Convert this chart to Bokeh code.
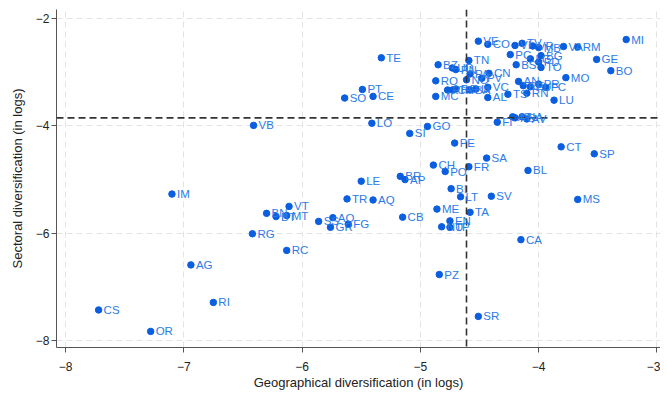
from bokeh.plotting import figure
from bokeh.models import ColumnDataSource, LabelSet, Span, FixedTicker, Range1d
from bokeh.core.properties import value
from bokeh.embed import file_html
from bokeh.resources import INLINE

provinces = ["VE", "CO", "VI", "TV", "VR", "MB", "LC", "VA", "RM", "MI", "PC", "BG", "PD", "BS", "TO",
             "GE", "BO", "MO", "LU", "AN", "RE", "PU", "PR", "FC", "RN", "TS", "AL", "VC", "CN", "PV",
             "PA", "NO", "TN", "BZ", "UD", "PN", "RO", "MC", "PI", "CR", "PG", "BA", "LI", "FI", "AT",
             "PS", "NA", "AV", "TE", "PT", "CE", "SO", "LO", "VB", "SI", "GO", "PE", "CT", "SP", "SA",
             "CH", "PO", "FR", "BL", "BR", "AP", "BI", "LT", "SV", "MS", "ME", "TA", "EN", "NU", "TP",
             "CB", "CA", "PZ", "SR", "IM", "LE", "TR", "AQ", "VT", "BN", "BT", "MT", "SS", "AO", "GR",
             "FG", "RG", "RC", "AG", "CS", "OR", "RI"]
geo_div = [-4.51, -4.43, -4.20, -4.14, -4.05, -4.00, -4.07, -3.79, -3.67, -3.26, -4.24, -3.98, -4.00, -4.19, -3.98,
           -3.51, -3.39, -3.77, -3.87, -4.17, -4.13, -4.07, -4.00, -3.94, -4.10, -4.26, -4.43, -4.43, -4.42, -4.48,
           -4.58, -4.61, -4.59, -4.85, -4.73, -4.70, -4.87, -4.87, -4.77, -4.73, -4.70, -4.58, -4.53, -4.35, -4.22,
           -4.20, -4.14, -4.10, -5.33, -5.49, -5.40, -5.64, -5.41, -6.41, -5.09, -4.94, -4.71, -3.81, -3.53, -4.44,
           -4.89, -4.79, -4.59, -4.09, -5.17, -5.13, -4.74, -4.66, -4.40, -3.67, -4.86, -4.58, -4.75, -4.82, -4.75,
           -5.15, -4.15, -4.84, -4.51, -7.10, -5.50, -5.62, -5.40, -6.11, -6.30, -6.22, -6.13, -5.86, -5.74, -5.76,
           -5.61, -6.42, -6.13, -6.94, -7.72, -7.28, -6.75]
sec_div = [-2.42, -2.48, -2.50, -2.46, -2.51, -2.54, -2.75, -2.52, -2.53, -2.39, -2.67, -2.69, -2.81, -2.86, -2.91,
           -2.76, -2.97, -3.10, -3.52, -3.17, -3.25, -3.27, -3.22, -3.28, -3.39, -3.41, -3.47, -3.28, -3.02, -3.11,
           -3.03, -3.14, -2.78, -2.86, -2.92, -2.95, -3.16, -3.45, -3.33, -3.33, -3.31, -3.33, -3.31, -3.93, -3.83,
           -3.85, -3.83, -3.87, -2.73, -3.32, -3.45, -3.48, -3.95, -3.99, -4.14, -4.01, -4.32, -4.39, -4.52, -4.60,
           -4.73, -4.85, -4.76, -4.83, -4.94, -5.00, -5.17, -5.32, -5.31, -5.37, -5.55, -5.61, -5.77, -5.88, -5.89,
           -5.70, -6.12, -6.77, -7.55, -5.27, -5.03, -5.36, -5.38, -5.50, -5.63, -5.69, -5.67, -5.78, -5.71, -5.89,
           -5.83, -6.01, -6.32, -6.59, -7.43, -7.83, -7.29]
x_ticks = [-8, -7, -6, -5, -4, -3]
y_ticks = [-8, -6, -4, -2]
geo_mean = -4.61
sec_mean = -3.85

src = ColumnDataSource(dict(x=geo_div, y=sec_div, lab=provinces))

p = figure(frame_width=604, frame_height=338, output_backend="svg", toolbar_location=None,
           x_range=Range1d(-8.076, -2.97), y_range=Range1d(-8.13, -1.83),
           min_border_left=56, min_border_right=0, min_border_top=9, min_border_bottom=0,
           x_axis_label="Geographical diversification (in logs)",
           y_axis_label="Sectoral diversification (in logs)")
p.outline_line_color = None
p.background_fill_color = "white"

for ax, ticks in ((p.xaxis[0], x_ticks), (p.yaxis[0], y_ticks)):
    ax.ticker = FixedTicker(ticks=ticks)
    ax.axis_line_color = "#555555"
    ax.major_tick_line_color = "#555555"
    ax.major_tick_out = 5
    ax.major_tick_in = 0
    ax.minor_tick_line_color = None
    ax.major_label_text_font = "Liberation Sans"
    ax.major_label_text_font_size = "12px"
    ax.major_label_text_color = "#222222"
    ax.axis_label_text_font = "Liberation Sans"
    ax.axis_label_text_font_size = "13px"
    ax.axis_label_text_font_style = "normal"
    ax.axis_label_text_color = "#222222"
p.xaxis.major_label_standoff = 9
p.xaxis.axis_label_standoff = 1
p.yaxis.major_label_standoff = 2
p.yaxis.axis_label_standoff = 8

p.xgrid.ticker = FixedTicker(ticks=x_ticks)
p.ygrid.ticker = FixedTicker(ticks=y_ticks)
for g in (p.xgrid[0], p.ygrid[0]):
    g.grid_line_color = "#e3e3e3"
    g.grid_line_dash = "6 4"
    g.grid_line_width = 1

p.add_layout(Span(location=geo_mean, dimension="height", line_color="#333333",
                  line_dash="7 4", line_width=1.6))
p.add_layout(Span(location=sec_mean, dimension="width", line_color="#333333",
                  line_dash="7 4", line_width=1.6))

p.scatter("x", "y", source=src, size=6.5, fill_color="#0a5fe0", line_color="#0a5fe0")
labels = LabelSet(x="x", y="y", text="lab", source=src, x_offset=5, y_offset=0,
                  text_baseline="middle", text_font=value("Liberation Sans"),
                  text_font_size=value("11.5px"), text_color=value("#2b7be6"))
p.add_layout(labels)

open("out.html", "w").write(file_html(p, INLINE))
